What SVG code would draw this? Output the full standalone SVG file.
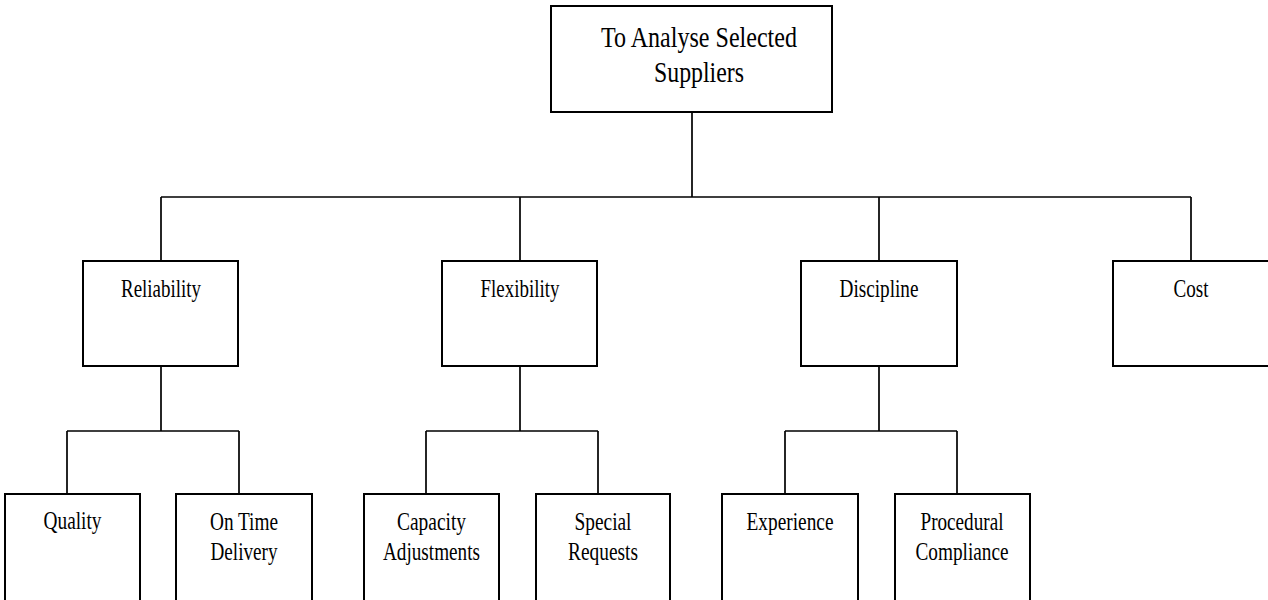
<svg xmlns="http://www.w3.org/2000/svg" width="1268" height="600" viewBox="0 0 1268 600">
<style>
.box{fill:#fff;stroke:#000;stroke-width:2}
.conn{fill:none;stroke:#000;stroke-width:1.7}
text{font-family:"Liberation Serif","Times New Roman",serif;fill:#000;text-anchor:middle}
.t1{font-size:29px}
.t2{font-size:25.5px}
</style>
<rect width="1268" height="600" fill="#fff"/>
<g id="connectors">
<path class="conn" d="M692 112V197M161 197H1191M161 197V261M520 197V261M879 197V261M1191 197V261"/>
<path class="conn" d="M161 366V431M67 431H239M67 431V494M239 431V494"/>
<path class="conn" d="M520 366V431M426 431H598M426 431V494M598 431V494"/>
<path class="conn" d="M879 366V431M785 431H957M785 431V494M957 431V494"/>
</g>
<g id="root">
<rect class="box" x="551" y="6" width="281" height="106"/>
<text class="t1" x="699" y="46.5" textLength="196" lengthAdjust="spacingAndGlyphs">To Analyse Selected</text>
<text class="t1" x="699" y="82" textLength="90" lengthAdjust="spacingAndGlyphs">Suppliers</text>
</g>
<g id="reliability">
<rect class="box" x="83" y="261" width="155" height="105"/>
<text class="t2" x="161" y="297" textLength="80" lengthAdjust="spacingAndGlyphs">Reliability</text>
</g>
<g id="flexibility">
<rect class="box" x="442" y="261" width="155" height="105"/>
<text class="t2" x="520" y="297" textLength="79" lengthAdjust="spacingAndGlyphs">Flexibility</text>
</g>
<g id="discipline">
<rect class="box" x="801" y="261" width="156" height="105"/>
<text class="t2" x="879" y="297" textLength="79" lengthAdjust="spacingAndGlyphs">Discipline</text>
</g>
<g id="cost">
<rect class="box" x="1113" y="261" width="156" height="105"/>
<text class="t2" x="1191" y="297" textLength="35" lengthAdjust="spacingAndGlyphs">Cost</text>
</g>
<g id="quality">
<rect class="box" x="5" y="494" width="135" height="110"/>
<text class="t2" x="72.5" y="529" textLength="58" lengthAdjust="spacingAndGlyphs">Quality</text>
</g>
<g id="ontime">
<rect class="box" x="176" y="494" width="136" height="110"/>
<text class="t2" x="244" y="530" textLength="68" lengthAdjust="spacingAndGlyphs">On Time</text>
<text class="t2" x="244" y="560" textLength="67" lengthAdjust="spacingAndGlyphs">Delivery</text>
</g>
<g id="capacity">
<rect class="box" x="364" y="494" width="135" height="110"/>
<text class="t2" x="431.5" y="530" textLength="69" lengthAdjust="spacingAndGlyphs">Capacity</text>
<text class="t2" x="431.5" y="560" textLength="97" lengthAdjust="spacingAndGlyphs">Adjustments</text>
</g>
<g id="special">
<rect class="box" x="536" y="494" width="134" height="110"/>
<text class="t2" x="603" y="530" textLength="57" lengthAdjust="spacingAndGlyphs">Special</text>
<text class="t2" x="603" y="560" textLength="70" lengthAdjust="spacingAndGlyphs">Requests</text>
</g>
<g id="experience">
<rect class="box" x="722" y="494" width="136" height="110"/>
<text class="t2" x="790" y="530" textLength="87" lengthAdjust="spacingAndGlyphs">Experience</text>
</g>
<g id="procedural">
<rect class="box" x="895" y="494" width="135" height="110"/>
<text class="t2" x="962" y="530" textLength="83" lengthAdjust="spacingAndGlyphs">Procedural</text>
<text class="t2" x="962" y="560" textLength="93" lengthAdjust="spacingAndGlyphs">Compliance</text>
</g>
</svg>
